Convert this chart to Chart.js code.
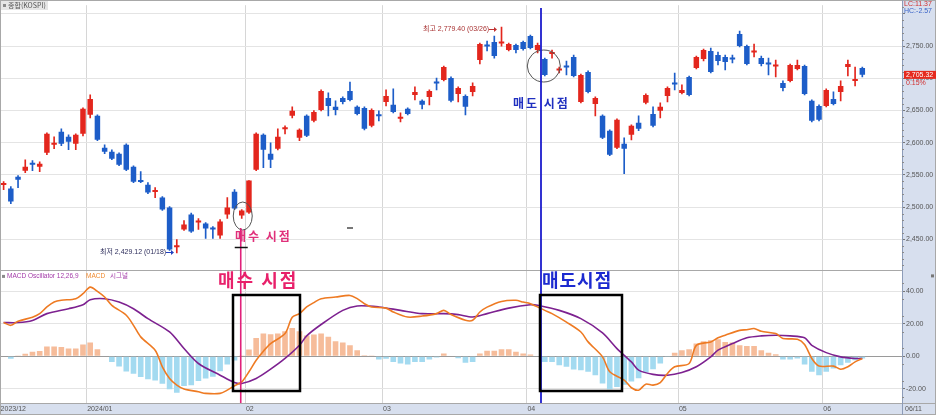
<!DOCTYPE html>
<html>
<head>
<meta charset="utf-8">
<script src="https://cdn.jsdelivr.net/npm/chart.js@4"></script>
<style>
  html, body { margin: 0; padding: 0; background: #fff; }
  canvas { display: block; }
</style>
</head>
<body>
<canvas id="kospi" width="936" height="415"></canvas>
<script>
// trading days by month (Dec 2023 - Jun 2024)
const dec = [12,13,14,15,18,19,20,21,22,26,27,28];
const jan = [2,3,4,5,8,9,10,11,12,15,16,17,18,19,22,23,24,25,26,29,30,31];
const feb = [1,2,5,6,7,8,13,14,15,16,19,20,21,22,23,26,27,28,29];
const mar = [4,5,6,7,8,11,12,13,14,15,18,19,20,21,22,25,26,27,28,29];
const apr = [1,2,3,4,5,8,9,11,12,15,16,17,18,19,22,23,24,25,26,29,30];
const may = [2,3,7,8,9,10,13,14,16,17,20,21,22,23,24,27,28,29,30,31];
const jun = [3,4,5,7,10,11];
const monthTicks = ['2023/12','2024/01','02','03','04','05','06'];

// KOSPI daily OHLC
const opens = [2534.5,2528.9,2547.4,2556.7,2567.5,2562.9,2584.5,2596.9,2617.0,2609.3,2598.5,2613.9,
  2643.3,2641.8,2592.3,2586.1,2583.0,2596.9,2562.9,2540.5,2535.0,2523.5,2515.0,2499.5,2438.0,2465.5,2488.7,2476.3,2474.7,2468.6,2456.2,2488.7,2524.2,2487.1,
  2491.8,2558.2,2612.4,2583.0,2590.7,2621.0,2641.8,2607.7,2641.8,2634.0,2651.0,2669.6,2655.7,2669.6,2680.4,2655.7,2654.1,2626.3,2642.5,
  2663.4,2658.8,2637.1,2652.6,2674.2,2665.0,2671.1,2693.5,2697.4,2700.5,2675.8,2672.7,2678.9,2728.4,2750.8,2756.2,2753.8,2743.8,2751.5,2756.2,
  2765.5,2743.8,2729.9,2737.6,2712.0,2718.3,2733.0,2663.4,2709.8,2660.3,2641.8,2618.6,2592.3,2598.5,2612.4,2630.9,2661.9,2644.8,2649.5,2672.7,
  2692.0,2677.3,2702.1,2716.0,2729.9,2742.3,2736.1,2733.0,2730.6,2768.6,2750.0,2740.0,2731.4,2723.0,2718.3,2692.8,2695.9,2714.4,2719.1,2665.0,2657.2,
  2657.2,2668.0,2678.9,2717.5,2696.0,2716.0];
const highs = [2539.7,2532.0,2549.0,2573.7,2572.2,2570.6,2615.5,2609.3,2621.6,2612.4,2613.9,2654.1,
  2674.2,2643.3,2596.9,2589.2,2584.5,2598.5,2564.4,2555.2,2538.1,2530.4,2516.5,2501.0,2450.0,2479.4,2491.0,2482.5,2476.3,2470.0,2480.9,2515.0,2527.3,2496.4,
  2541.3,2615.5,2613.9,2600.0,2621.6,2626.3,2655.7,2621.6,2643.3,2650.0,2682.0,2677.3,2665.0,2671.1,2694.3,2657.2,2655.7,2652.6,2649.5,
  2682.0,2683.5,2646.4,2654.1,2686.6,2666.5,2682.0,2700.5,2719.1,2702.1,2686.6,2674.2,2692.8,2754.6,2757.7,2765.5,2779.4,2754.6,2753.1,2757.7,
  2767.0,2754.6,2731.4,2743.8,2717.5,2726.8,2736.1,2706.7,2711.4,2671.1,2643.3,2620.1,2637.1,2607.7,2627.8,2641.8,2675.8,2655.7,2661.9,2686.6,
  2708.2,2689.7,2703.6,2734.5,2745.4,2746.9,2740.7,2736.1,2736.1,2773.2,2751.5,2753.1,2734.5,2731.4,2728.4,2695.9,2722.2,2728.4,2720.6,2666.5,2658.8,
  2683.5,2678.9,2695.9,2728.4,2717.5,2717.5];
const lows = [2527.3,2505.7,2530.4,2553.6,2556.7,2555.2,2581.4,2590.7,2595.4,2589.2,2589.2,2610.8,
  2638.7,2603.1,2583.0,2573.7,2564.4,2556.7,2538.1,2538.1,2521.0,2515.0,2495.0,2433.0,2429.1,2463.9,2461.0,2465.5,2451.5,2451.5,2451.5,2482.5,2496.4,2482.5,
  2490.2,2556.7,2561.3,2561.3,2589.0,2613.9,2638.7,2603.1,2609.3,2632.5,2649.5,2641.8,2643.3,2660.3,2665.0,2643.3,2620.1,2624.7,2634.0,
  2657.2,2646.4,2632.5,2643.3,2666.5,2652.6,2658.8,2682.0,2696.0,2663.4,2663.4,2643.3,2672.7,2722.2,2742.3,2731.4,2750.0,2742.3,2739.2,2743.8,
  2745.4,2739.2,2703.6,2731.4,2708.2,2705.2,2702.1,2661.9,2677.3,2641.8,2606.2,2580.0,2590.7,2552.1,2604.6,2618.6,2660.3,2624.7,2638.7,2663.4,
  2682.0,2675.8,2672.7,2714.4,2726.8,2708.2,2720.6,2712.9,2723.7,2748.5,2720.6,2733.0,2719.1,2705.2,2702.1,2680.4,2694.3,2713.0,2674.2,2632.5,2634.0,
  2655.7,2658.8,2665.0,2703.6,2688.1,2702.1];
const closes = [2535.5,2508.8,2542.8,2562.9,2566.0,2567.5,2613.9,2598.5,2598.5,2601.5,2612.4,2652.6,
  2668.0,2604.6,2586.1,2575.3,2566.0,2558.2,2539.7,2539.2,2522.7,2524.5,2496.4,2434.5,2439.5,2473.2,2462.4,2479.4,2467.0,2465.5,2477.8,2499.5,2498.0,2494.8,
  2541.3,2613.9,2589.2,2573.7,2609.3,2622.5,2649.5,2620.1,2610.8,2647.9,2680.4,2657.2,2651.0,2663.4,2666.5,2644.8,2621.6,2651.0,2641.0,
  2672.7,2647.9,2640.2,2644.8,2678.9,2658.8,2680.4,2692.0,2717.5,2665.0,2685.1,2655.7,2688.1,2753.1,2749.2,2734.5,2755.4,2753.1,2743.8,2745.4,
  2746.9,2751.5,2705.2,2740.7,2713.5,2716.8,2703.6,2705.2,2678.9,2669.6,2607.7,2581.4,2635.6,2590.7,2626.3,2621.6,2674.2,2626.3,2655.7,2685.1,
  2690.5,2682.0,2674.2,2733.0,2743.8,2709.8,2726.8,2725.3,2729.1,2750.0,2722.2,2741.5,2722.2,2721.5,2719.8,2685.1,2720.6,2720.6,2675.8,2634.0,2635.6,
  2682.0,2660.3,2688.1,2722.2,2699.0,2705.32];

// MACD oscillator (12,26,9) per day
const oscillator = [-0.3,-1.5,0.2,1.5,2.7,3.2,6,6,5.7,4.7,4.7,7.2,
  8.4,4.3,0.3,-3.5,-6.3,-9.4,-10.8,-12.8,-14.2,-14.9,-16.9,-20.4,-22.5,-18.4,-17.8,-15.3,-13.7,-12.7,-9.2,-5.1,-2.6,0.5,
  4.1,11.2,13.9,13.5,13.9,15.3,17.4,15.3,12.7,13.3,13.9,11.9,9.2,8.4,6.7,3.7,0.6,0.2,-2,
  -1.5,-3.5,-4.5,-5.1,-3.5,-3.5,-2,-0.8,1.6,0.3,-1.2,-4,-3.5,1.6,3.3,3.3,4.3,4.3,2.7,1.6,
  1.0,0.3,-3.5,-3.5,-5.5,-6.5,-8.2,-8.6,-9.6,-11.7,-16.8,-20.3,-19,-17.5,-15.5,-13.5,-10,-8,-4.5,-0.5,
  2.2,3.7,4.3,7.8,9.2,9.8,10.4,8.8,8.4,6.7,6.3,6.3,3.7,2.2,1.2,-2,-2,-1.4,-5.1,-9.6,-11.7,
  -9.6,-7.6,-5.5,-4,-2.5,-1.4];

// MACD line and signal, read at [day index, value]
const macdPts = [[0,20.7],[1,19],[2,21.5],[4,24],[5,26.2],[6,30.3],[7,33.3],[8,34.4],[10,35.4],[11,38.5],
  [12,42.5],[13,39.9],[14,36.4],[15,31.3],[17,25.2],[18,19],[19,11.9],[21,3.7],[22,-6.5],[23,-13.7],[24,-17.8],
  [25,-20.2],[27,-21.9],[28,-22.9],[30,-22.9],[31,-20.9],[32,-18.2],[33,-15.8],[34,-9.6],[35,-2.5],[36,3.1],
  [37,7.8],[39,13.9],[40,24],[41,26.2],[42,30.3],[43,33],[44,35.4],[46,36.4],[48,37.4],[49,35.4],[50,32.3],
  [51,30.3],[53,29.6],[54,27.2],[56,24.1],[58,24.7],[60,26.2],[61,28.2],[62,25.6],[64,22.1],[65,22.1],[66,27.2],
  [67,30.2],[69,33.7],[71,34.4],[72,33.3],[73,32.3],[75,28.2],[76,26.2],[78,21],[80,14.9],[81,8.8],[83,-0.4],
  [84,-9.6],[86,-14.7],[87,-19.4],[88,-20.9],[89,-17.2],[90,-17.8],[91,-16.2],[92,-10.6],[93,-6.5],[95,-4.5],
  [96,6.7],[98,8.8],[99,11.3],[100,12.9],[102,15.9],[103,16.3],[104,17],[105,15.3],[107,13.9],[108,10.9],
  [110,10.4],[111,7.2],[112,-1.4],[113,-6.1],[115,-6.1],[116,-8],[117,-6.5],[118,-3.5],[119,-1.4]];
const signalPts = [[0,20.7],[2,20.7],[4,22],[6,26.2],[9,29.2],[11,31.7],[12,34.8],[14,35.4],[16,33.3],
  [18,29.2],[20,23.1],[23,14.9],[25,4.7],[27,-4.5],[30,-11.7],[32,-16.2],[33,-16.8],[35,-13.7],[37,-8],
  [39,-1.4],[41,6.7],[42,12.5],[44,19.5],[47,28.2],[49,30.9],[52,30.3],[55,28.2],[58,26.2],[61,26.2],
  [63,25.6],[65,24.1],[67,26.2],[70,29.6],[73,31.7],[74,31.3],[77,28.2],[80,23.1],[83,14.3],[85,4.7],
  [87,-3.5],[88,-8.6],[90,-11.2],[92,-11.7],[94,-10],[96,-6.5],[98,-0.4],[99,3.7],[101,7.8],[103,11.3],
  [105,12.5],[107,12.9],[109,12.5],[111,11.3],[112,6.7],[114,2.2],[116,-0.4],[118,-1.4],[119,-1.4]];

const UP = '#e3261d', DOWN = '#1d5dc8';

// labels
const months = [['12',dec],['01',jan],['02',feb],['03',mar],['04',apr],['05',may],['06',jun]];
const labels = [], tickText = [];
months.forEach(([mm, days], m) => {
  days.forEach((d, j) => {
    labels.push(mm + '/' + String(d).padStart(2,'0'));
    tickText.push(j === 0 ? monthTicks[m] : '');
  });
});
for (let i = 0; i < 5; i++) { labels.push(''); tickText.push(''); }
const monthStart = new Set(tickText.map((t,i) => (t && i > 0) ? i : -1).filter(i => i >= 0));

const n = closes.length;
const colors = closes.map((c,i) => c >= opens[i] ? UP : DOWN);
const sparse = pts => { const a = new Array(n).fill(null); pts.forEach(([i,v]) => a[i] = v); return a; };
const fmt = v => v.toLocaleString('en-US', {minimumFractionDigits: 2, maximumFractionDigits: 2});

function arrow(ctx, x0, x1, yy, color) {
  ctx.strokeStyle = color;
  ctx.fillStyle = color;
  ctx.lineWidth = 1;
  ctx.beginPath();
  ctx.moveTo(x0, yy + 0.5); ctx.lineTo(x1 - 2, yy + 0.5);
  ctx.stroke();
  ctx.beginPath();
  ctx.moveTo(x1, yy + 0.5); ctx.lineTo(x1 - 3, yy - 2); ctx.lineTo(x1 - 3, yy + 3);
  ctx.closePath();
  ctx.fill();
}

const overlay = {
  id: 'overlay',
  beforeDraw(chart) {
    const {ctx, chartArea: a} = chart;
    ctx.save();
    ctx.fillStyle = '#fff';
    ctx.fillRect(0, 0, chart.width, chart.height);
    ctx.fillStyle = '#d7dfee';
    ctx.fillRect(a.right, 0, chart.width - a.right, chart.height);
    ctx.fillRect(0, a.bottom, a.right, chart.height - a.bottom);
    ctx.restore();
  },
  afterDraw(chart) {
    const {ctx, chartArea: a, scales} = chart;
    const x = scales.x, y = scales.y, y2 = scales.y2;
    ctx.save();

    // frame + separators
    ctx.strokeStyle = '#a8a8a8';
    ctx.lineWidth = 1;
    ctx.strokeRect(0.5, 0.5, chart.width - 1, chart.height - 1);
    ctx.beginPath();
    ctx.moveTo(0, Math.round(y.bottom) + 0.5); ctx.lineTo(a.right, Math.round(y.bottom) + 0.5);
    ctx.moveTo(0, a.bottom + 0.5); ctx.lineTo(chart.width, a.bottom + 0.5);
    ctx.stroke();
    ctx.strokeStyle = '#8d9cb8';
    ctx.beginPath();
    ctx.moveTo(a.right + 0.5, 0); ctx.lineTo(a.right + 0.5, chart.height);
    ctx.stroke();

    // minor ticks on the value axes
    ctx.strokeStyle = '#8a8a8a';
    ctx.beginPath();
    for (let v = 2410; v <= 2810; v += 10) {
      if (v % 50 === 0) continue;
      const py = Math.round(y.getPixelForValue(v)) + 0.5;
      ctx.moveTo(a.right, py); ctx.lineTo(a.right + 2, py);
    }
    for (let v = -25; v <= 50; v += 5) {
      if (v % 10 === 0) continue;
      const py = Math.round(y2.getPixelForValue(v)) + 0.5;
      ctx.moveTo(a.right, py); ctx.lineTo(a.right + 2, py);
    }
    ctx.stroke();

    ctx.textBaseline = 'middle';
    ctx.textAlign = 'left';

    // panel titles
    ctx.fillStyle = '#e6e6e6';
    ctx.fillRect(1, 1, 47, 9);
    ctx.fillStyle = '#8a8a8a';
    ctx.fillRect(3, 4, 3, 3);
    ctx.font = '7px "Noto Sans CJK KR", sans-serif';
    ctx.fillStyle = '#555';
    ctx.fillText('종합(KOSPI)', 8, 5.5);

    const ly = y2.top + 6;
    ctx.fillStyle = '#8a8a8a';
    ctx.fillRect(2, ly - 1.5, 3, 3);
    ctx.font = '6.5px "Liberation Sans", "Noto Sans CJK KR", sans-serif';
    ctx.fillStyle = '#a33aa8';
    ctx.fillText('MACD Oscillator 12,26,9', 7, ly);
    ctx.fillStyle = '#f08a30';
    ctx.fillText('MACD', 86, ly);
    ctx.fillStyle = '#a33aa8';
    ctx.fillText('시그널', 110, ly);

    // right panel texts
    ctx.font = '7px "Liberation Sans", sans-serif';
    ctx.fillStyle = '#d03030';
    ctx.fillText('LC:11.37', a.right + 2, 4);
    ctx.fillStyle = '#3a64c8';
    ctx.fillText('HC:-2.57', a.right + 2, 11);
    const py = y.getPixelForValue(closes[n - 1]);
    ctx.fillStyle = '#e5291d';
    ctx.fillRect(a.right + 2, py - 4, chart.width - a.right - 2, 8);
    ctx.fillStyle = '#fff';
    ctx.fillText(fmt(closes[n - 1]), a.right + 4, py);
    ctx.fillStyle = '#d03030';
    ctx.fillText('0.15%', a.right + 4, py + 8);
    ctx.fillStyle = '#777';
    ctx.fillRect(chart.width - 5, y2.top + 4, 3, 3);
    ctx.fillStyle = '#555';
    ctx.fillText('06/11', a.right + 3, (a.bottom + chart.height) / 2);

    // high / low notes
    ctx.font = '7px "Liberation Sans", "Noto Sans CJK KR", sans-serif';
    const hy = Math.round(y.getPixelForValue(2779.4)) + 2;
    ctx.fillStyle = '#a83232';
    ctx.fillText('최고 2,779.40 (03/26)', 423, hy);
    arrow(ctx, 489, 497, hy, '#c03030');
    const lwy = Math.round(y.getPixelForValue(2429.12)) - 1;
    ctx.fillStyle = '#2e2e5c';
    ctx.fillText('최저 2,429.12 (01/18)', 100, lwy);
    arrow(ctx, 166, 174, lwy, '#2040c0');

    // buy point
    const bx = x.getPixelForValue(33);
    ctx.strokeStyle = '#555';
    ctx.lineWidth = 1;
    ctx.beginPath();
    ctx.ellipse(bx + 1, 216, 9.5, 14, 0, 0, Math.PI * 2);
    ctx.stroke();
    ctx.strokeStyle = '#e0207a';
    ctx.lineWidth = 1.6;
    ctx.beginPath();
    ctx.moveTo(bx - 1, 228); ctx.lineTo(bx - 1, a.bottom);
    ctx.stroke();
    ctx.strokeStyle = '#111';
    ctx.lineWidth = 1.5;
    ctx.beginPath();
    ctx.moveTo(bx - 7, 247.5); ctx.lineTo(bx + 6, 247.5);
    ctx.stroke();
    ctx.fillStyle = '#e0307a';
    ctx.font = 'bold 12px "Noto Sans CJK KR", sans-serif';
    ctx.letterSpacing = '2px';
    ctx.fillText('매수 시점', 235, 236);
    ctx.font = 'bold 18px "Noto Sans CJK KR", sans-serif';
    ctx.letterSpacing = '2px';
    ctx.fillStyle = '#e8206a';
    ctx.fillText('매수 시점', 218, 280);

    // sell point
    const sx = 541;
    ctx.strokeStyle = '#555';
    ctx.lineWidth = 1;
    ctx.beginPath();
    ctx.ellipse(x.getPixelForValue(75) - 1, 66, 16.5, 16, 0, 0, Math.PI * 2);
    ctx.stroke();
    ctx.strokeStyle = '#1c1ccc';
    ctx.lineWidth = 1.8;
    ctx.beginPath();
    ctx.moveTo(sx, 8); ctx.lineTo(sx, a.bottom);
    ctx.stroke();
    ctx.fillStyle = '#2030c0';
    ctx.font = 'bold 12px "Noto Sans CJK KR", sans-serif';
    ctx.letterSpacing = '2px';
    ctx.fillText('매도 시점', 513, 103);
    ctx.font = 'bold 18px "Noto Sans CJK KR", sans-serif';
    ctx.letterSpacing = '1px';
    ctx.fillStyle = '#1c2ad0';
    ctx.fillText('매도시점', 542, 280);
    ctx.letterSpacing = '0px';

    // boxes
    ctx.strokeStyle = '#000';
    ctx.lineWidth = 2.5;
    ctx.strokeRect(233, 295, 67, 96);
    ctx.strokeRect(540, 295, 82, 96);

    // stray mark
    ctx.fillStyle = '#777';
    ctx.fillRect(347, 227, 6, 2);

    ctx.restore();
  }
};

new Chart(document.getElementById('kospi'), {
  type: 'bar',
  data: {
    labels: labels,
    datasets: [
      {
        label: 'wick',
        data: lows.map((l,i) => [l, highs[i]]),
        backgroundColor: colors,
        barThickness: 1,
        grouped: false,
        order: 2,
        yAxisID: 'y'
      },
      {
        label: 'body',
        data: opens.map((o,i) => [o, closes[i]]),
        backgroundColor: colors,
        barPercentage: 0.76,
        categoryPercentage: 1,
        minBarLength: 2,
        grouped: false,
        order: 1,
        yAxisID: 'y'
      },
      {
        label: 'MACD Oscillator',
        data: oscillator,
        backgroundColor: oscillator.map(v => v >= 0 ? '#f6bc9a' : '#a3daf0'),
        barPercentage: 0.78,
        categoryPercentage: 1,
        grouped: false,
        order: 3,
        yAxisID: 'y2'
      },
      {
        type: 'line',
        label: 'MACD',
        data: sparse(macdPts),
        borderColor: '#ee7a22',
        borderWidth: 1.6,
        pointRadius: 0,
        spanGaps: true,
        tension: 0.3,
        order: 0,
        yAxisID: 'y2'
      },
      {
        type: 'line',
        label: '시그널',
        data: sparse(signalPts),
        borderColor: '#7d2190',
        borderWidth: 1.6,
        pointRadius: 0,
        spanGaps: true,
        tension: 0.3,
        order: 0,
        yAxisID: 'y2'
      }
    ]
  },
  options: {
    responsive: false,
    animation: false,
    devicePixelRatio: 1,
    layout: { padding: { top: 2, left: 0, right: 0, bottom: 0 } },
    plugins: { legend: { display: false }, tooltip: { enabled: false } },
    scales: {
      x: {
        type: 'category',
        offset: true,
        afterFit: s => { s.height = 12; },
        grid: {
          offset: true,
          drawTicks: false,
          color: ctx => monthStart.has(ctx.index) ? '#d6d6d6' : 'transparent'
        },
        border: { display: false },
        ticks: {
          autoSkip: false,
          maxRotation: 0,
          align: 'start',
          labelOffset: -3,
          padding: 2,
          color: '#555',
          font: { size: 7, family: 'Liberation Sans' },
          callback: (v, i) => tickText[i]
        }
      },
      y: {
        position: 'right',
        stack: 'panes',
        stackWeight: 2,
        min: 2402,
        max: 2813.4,
        afterFit: s => { s.width = 34; },
        grid: { color: '#e4e4e4', tickLength: 3, tickColor: '#777' },
        border: { color: '#8d9cb8' },
        ticks: {
          stepSize: 50,
          includeBounds: false,
          padding: 1,
          color: '#555',
          font: { size: 7, family: 'Liberation Sans' },
          callback: v => v === 2800 ? '' : fmt(v)
        }
      },
      y2: {
        position: 'right',
        stack: 'panes',
        stackWeight: 1,
        min: -28.8,
        max: 52.8,
        afterFit: s => { s.width = 34; },
        grid: {
          color: ctx => ctx.tick && ctx.tick.value === 0 ? '#9a9a9a' : '#e4e4e4',
          tickLength: 3,
          tickColor: '#777'
        },
        border: { color: '#8d9cb8' },
        ticks: {
          stepSize: 10,
          includeBounds: false,
          padding: 1,
          color: '#555',
          font: { size: 7, family: 'Liberation Sans' },
          callback: v => (v >= -20 && v <= 40) ? fmt(v) : ''
        }
      }
    }
  },
  plugins: [overlay]
});
</script>
</body>
</html>
